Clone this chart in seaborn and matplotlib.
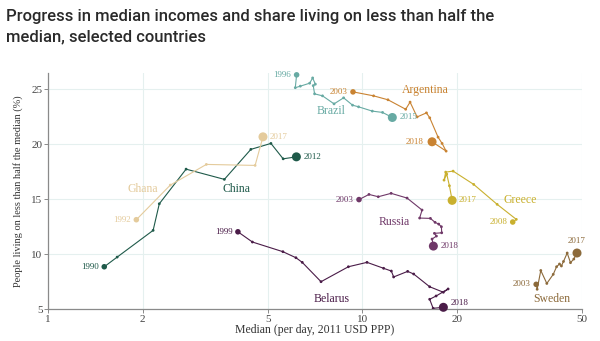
import matplotlib
matplotlib.use("Agg")
import matplotlib.pyplot as plt
import pandas as pd
import seaborn as sns
from matplotlib.ticker import FixedLocator, FixedFormatter, NullLocator

# Median income (USD/day, 2011 PPP) and share below half the median (%)
china_median = [1.51, 1.66, 2.16, 2.26, 2.75, 3.64, 4.42, 5.12, 5.60, 6.17]
china_share = [8.87, 9.75, 12.18, 14.60, 17.75, 16.82, 19.55, 20.09, 18.69, 18.87]
china_years = (1990, 2012)

ghana_median = [1.91, 2.45, 3.19, 4.56, 4.83]
ghana_share = [13.15, 16.30, 18.18, 18.09, 20.69]
ghana_years = (1992, 2017)

brazil_median = [6.18, 6.12, 6.35, 6.80, 6.95, 7.09, 6.98, 7.05, 7.47, 8.13,
                 8.72, 9.31, 9.73, 10.76, 11.60, 12.46]
brazil_share = [26.33, 25.16, 25.30, 25.57, 26.05, 25.48, 25.35, 24.60, 24.42, 23.69,
                24.24, 23.57, 23.42, 23.03, 22.91, 22.45]
brazil_years = (1996, 2015)

argentina_median = [9.34, 10.86, 12.07, 13.74, 14.19, 14.94, 16.00, 16.39, 17.42,
                    17.94, 18.48, 16.67]
argentina_share = [24.78, 24.42, 24.06, 23.20, 23.85, 22.50, 22.87, 22.42, 20.66,
                   20.09, 19.39, 20.24]
argentina_years = (2003, 2018)

russia_median = [9.76, 10.50, 11.24, 12.35, 13.88, 15.49, 15.22, 16.47, 17.04, 17.50,
                 17.85, 17.89, 16.96, 17.21, 16.67, 16.83]
russia_share = [14.98, 15.45, 15.24, 15.55, 15.12, 14.03, 13.30, 13.27, 12.91, 12.75,
                12.51, 11.96, 11.91, 11.66, 11.39, 10.75]
russia_years = (2003, 2018)

belarus_median = [4.02, 4.47, 5.59, 6.15, 6.44, 7.39, 9.03, 10.35, 11.69, 12.37,
                  12.58, 13.94, 14.57, 16.38, 18.11, 18.75, 17.17, 16.38, 16.80, 18.11]
belarus_share = [12.05, 11.12, 10.24, 9.69, 9.27, 7.51, 8.87, 9.27, 8.73, 8.48,
                 7.94, 8.45, 8.21, 7.05, 6.55, 6.85, 6.21, 5.91, 5.09, 5.18]
belarus_years = (1999, 2018)

greece_median = [30.10, 30.90, 26.85, 22.62, 19.45, 18.42, 18.20, 18.56, 18.93, 19.31]
greece_share = [12.94, 13.18, 14.55, 16.36, 17.57, 17.48, 16.75, 17.30, 16.24, 14.91]
greece_years = (2008, 2017)

sweden_median = [35.74, 36.00, 36.97, 38.64, 40.50, 41.50, 42.40, 43.00, 43.66, 44.86,
                 45.96, 47.09, 48.20]
sweden_share = [7.27, 6.82, 8.53, 7.35, 8.18, 8.87, 9.12, 8.94, 9.35, 10.12,
                9.24, 9.57, 10.12]
sweden_years = (2003, 2017)

x_ticks = [1, 2, 5, 10, 20, 50]
y_ticks = [5, 10, 15, 20, 25]

series = {
    "China": (china_median, china_share, china_years),
    "Ghana": (ghana_median, ghana_share, ghana_years),
    "Brazil": (brazil_median, brazil_share, brazil_years),
    "Argentina": (argentina_median, argentina_share, argentina_years),
    "Russia": (russia_median, russia_share, russia_years),
    "Belarus": (belarus_median, belarus_share, belarus_years),
    "Greece": (greece_median, greece_share, greece_years),
    "Sweden": (sweden_median, sweden_share, sweden_years),
}

palette = {
    "China": "#1f5a4a",
    "Ghana": "#e4cb9c",
    "Brazil": "#67aaa3",
    "Argentina": "#c98332",
    "Russia": "#6f3868",
    "Belarus": "#4a1c48",
    "Greece": "#c9b02e",
    "Sweden": "#8c6a3b",
}

rows = []
for name, (med, share, _) in series.items():
    for i, (m, s) in enumerate(zip(med, share)):
        rows.append({"country": name, "step": i, "median": m, "share": s})
df = pd.DataFrame(rows)
first = df.groupby("country").head(1)
last = df.groupby("country").tail(1)

serif = "Liberation Serif"
fig = plt.figure(figsize=(6.0, 3.41), dpi=100)
ax = fig.add_axes([0.080, 0.093, 0.890, 0.693])
sns.set_style("white")

sns.lineplot(data=df, x="median", y="share", hue="country", palette=palette,
             sort=False, estimator=None, units="country", linewidth=0.8,
             legend=False, ax=ax, zorder=3)
sns.scatterplot(data=df, x="median", y="share", hue="country", palette=palette,
                s=4, linewidth=0, legend=False, ax=ax, zorder=4)
sns.scatterplot(data=first, x="median", y="share", hue="country", palette=palette,
                s=16, linewidth=0, legend=False, ax=ax, zorder=5, clip_on=False)
sns.scatterplot(data=last, x="median", y="share", hue="country", palette=palette,
                s=42, linewidth=0, legend=False, ax=ax, zorder=5, clip_on=False)

ax.set_xscale("log")
ax.set_xlim(1, 50)
ax.set_ylim(5, 26.5)
ax.xaxis.set_major_locator(FixedLocator(x_ticks))
ax.xaxis.set_major_formatter(FixedFormatter([str(t) for t in x_ticks]))
ax.xaxis.set_minor_locator(NullLocator())
ax.set_yticks(y_ticks)
ax.grid(True, color="#e5f0ef", linewidth=0.8, zorder=0)
ax.set_axisbelow(True)
for side in ("top", "right"):
    ax.spines[side].set_visible(False)
for side in ("left", "bottom"):
    ax.spines[side].set_color("#8a8a8a")
    ax.spines[side].set_linewidth(0.9)
ax.tick_params(axis="both", length=3, width=0.7, color="#8a8a8a", pad=1,
               labelsize=8, labelcolor="#444444")
for lbl in ax.get_xticklabels() + ax.get_yticklabels():
    lbl.set_fontfamily(serif)
ax.set_xlabel("Median (per day, 2011 USD PPP)", fontsize=8.5, family=serif,
              color="#333333", labelpad=0)
ax.set_ylabel("People living on less than half the median (%)", fontsize=7.5,
              family=serif, color="#333333", labelpad=6)

# Year labels at the start and end of each path
year_pos = {
    "China": ("l", "r"), "Ghana": ("l", "r"), "Brazil": ("l", "r"),
    "Argentina": ("l", "l"), "Russia": ("l", "r"), "Belarus": ("l", "ur"),
    "Greece": ("l", "r"), "Sweden": ("l", "u"),
}
offsets = {"l": (-4, 0, "right", "center"), "r": (5, 0, "left", "center"),
           "ur": (5, 3, "left", "center"), "u": (0, 6, "center", "bottom")}
for name, (med, share, years) in series.items():
    for idx, yr, key in ((0, years[0], year_pos[name][0]), (-1, years[1], year_pos[name][1])):
        dx, dy, ha, va = offsets[key]
        if key == "l" and idx == -1:
            dx = -6
        ax.annotate(str(yr), (med[idx], share[idx]), xytext=(dx, dy),
                    textcoords="offset points", ha=ha, va=va, fontsize=6.5,
                    family=serif, color=palette[name], zorder=6)

# Country names
name_pos = {
    "China": (3.98, 15.94), "Ghana": (2.0, 15.94), "Brazil": (7.95, 23.03),
    "Argentina": (15.9, 24.94), "Russia": (12.65, 12.94), "Belarus": (7.96, 5.94),
    "Greece": (31.7, 14.91), "Sweden": (40.0, 5.91),
}
for name, (x, y) in name_pos.items():
    ax.text(x, y, name, ha="center", va="center", fontsize=8.5, family=serif,
            color=palette[name], zorder=6)

fig.text(0.01, 0.975, "Progress in median incomes and share living on less than half the\nmedian, selected countries",
         ha="left", va="top", fontsize=12, family="Roboto", fontweight="medium",
         color="#2a2a2a", linespacing=1.45)

fig.savefig("out.png", dpi=100)
